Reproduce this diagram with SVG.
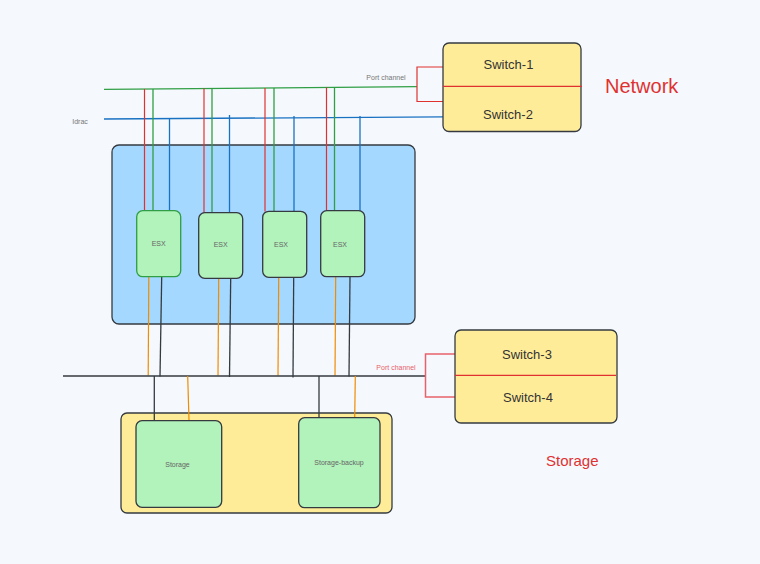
<svg xmlns="http://www.w3.org/2000/svg" width="760" height="564" viewBox="0 0 760 564">
<style>
.box{stroke:#343a40;stroke-width:1.3}
.sw{fill:#ffec99}
.esx{fill:#b2f2bb}
.t{font-family:"Liberation Sans",Arial,sans-serif}
.sm{font-size:7px;fill:#666;text-anchor:middle}
.lbl{font-size:13px;fill:#333;text-anchor:middle}
.r{stroke:#e03131;fill:none;stroke-width:1.2}
.rl{stroke:#e8616b;fill:none;stroke-width:1.5}
.g{stroke:#2f9e44;fill:none;stroke-width:1.3}
.b{stroke:#1971c2;fill:none;stroke-width:1.3}
.o{stroke:#f08c00;fill:none;stroke-width:1.2}
.k{stroke:#343a40;fill:none;stroke-width:1.3}
</style>
<rect width="760" height="564" fill="#f5f9fd"/>

<g id="esx-cluster">
<rect class="box" x="112" y="145" width="303" height="179" rx="7" fill="#a5d8ff"/>
</g>
<g id="storage-area">
<rect class="box" x="121" y="413" width="271" height="100" rx="6" fill="#ffec99"/>
</g>

<g id="connectors">
<!-- network trunk lines -->
<path class="g" d="M104 89.3 L417 86.7"/>
<path class="b" d="M104 119 L443 116.8"/>
<path class="r" d="M443 67 H417 V101.5 H443"/>
<!-- ESX1 -->
<path class="r" d="M144.5 89 V211"/>
<path class="g" d="M153 89 V211"/>
<path class="b" d="M169.5 119 V211"/>
<!-- ESX2 -->
<path class="r" d="M204 88.5 V213"/>
<path class="g" d="M212 88.5 V213"/>
<path class="b" d="M229.5 115 V213"/>
<!-- ESX3 -->
<path class="r" d="M265 88 V211.5"/>
<path class="g" d="M274 88 V211.5"/>
<path class="b" d="M294 116 V211.5"/>
<!-- ESX4 -->
<path class="r" d="M326.5 87.5 V211"/>
<path class="g" d="M334.5 87.5 V211"/>
<path class="b" d="M360 116 V211"/>
<!-- ESX down to storage trunk -->
<path class="o" d="M148.8 277 L148.2 375.5"/>
<path class="k" d="M161.7 277 L160 376.5"/>
<path class="o" d="M218.7 278 L218 375.5"/>
<path class="k" d="M230.7 278 L229.5 377"/>
<path class="o" d="M278.7 277 L278 375.5"/>
<path class="k" d="M293.7 277 L293 377.5"/>
<path class="o" d="M335.7 277 L335 375.5"/>
<path class="k" d="M350 277 L349 376.5"/>
<!-- storage trunk -->
<path class="k" d="M63 376 H426"/>
<path class="rl" d="M455 354 H425.5 V397 H455"/>
<!-- to storage -->
<path class="k" d="M154.3 376 V421"/>
<path class="o" d="M187.7 376 L189 420.5"/>
<path class="k" d="M319 376 V420"/>
<path class="o" d="M355.3 376 L354.7 419"/>
</g>

<g id="switch-1-2">
<rect class="box sw" x="443" y="43" width="138" height="88.5" rx="6"/>
<path d="M443 86.3 H582" stroke="#e03131" stroke-width="1.2"/>
<text class="t lbl" x="508.5" y="68.5">Switch-1</text>
<text class="t lbl" x="508" y="118.5">Switch-2</text>
</g>

<g id="switch-3-4">
<rect class="box sw" x="455" y="330" width="162" height="93" rx="6"/>
<path d="M455 375.3 H616" stroke="#e03131" stroke-width="1.2"/>
<text class="t lbl" x="527" y="358.8">Switch-3</text>
<text class="t lbl" x="528" y="401.8">Switch-4</text>
</g>

<g id="esx-1">
<rect x="136.7" y="210.7" width="44" height="66" rx="6" fill="#b2f2bb" stroke="#2f9e44" stroke-width="1.3"/>
<text class="t sm" x="158.7" y="245.5">ESX</text>
</g>
<g id="esx-2">
<rect class="box esx" x="198.7" y="212.7" width="44" height="65.6" rx="6"/>
<text class="t sm" x="220.7" y="247">ESX</text>
</g>
<g id="esx-3">
<rect class="box esx" x="262.7" y="211.3" width="44" height="66" rx="6"/>
<text class="t sm" x="281" y="246.5">ESX</text>
</g>
<g id="esx-4">
<rect class="box esx" x="320.7" y="210.7" width="44" height="66" rx="6"/>
<text class="t sm" x="340" y="246.5">ESX</text>
</g>

<g id="storage">
<rect class="box esx" x="136" y="420.7" width="85.7" height="86.6" rx="6"/>
<text class="t sm" x="177.5" y="467">Storage</text>
</g>
<g id="storage-backup">
<rect class="box esx" x="298.7" y="417.7" width="81.3" height="90" rx="6"/>
<text class="t sm" x="339" y="465">Storage-backup</text>
</g>

<g id="labels">
<text class="t" x="386" y="80" font-size="7" fill="#777" text-anchor="middle">Port channel</text>
<text class="t" x="80" y="123.6" font-size="7" fill="#777" text-anchor="middle">Idrac</text>
<text class="t" x="396" y="370" font-size="7" fill="#e8616b" text-anchor="middle">Port channel</text>
<text class="t" x="605" y="93" font-size="20" fill="#e03131">Network</text>
<text class="t" x="546" y="465.5" font-size="15" fill="#e03131">Storage</text>
</g>
</svg>
